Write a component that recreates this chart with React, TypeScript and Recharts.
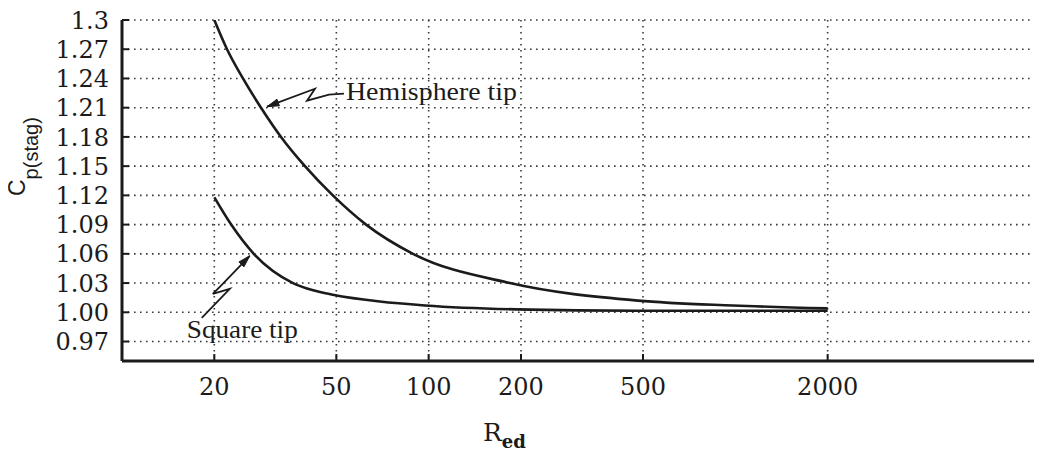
import { LineChart, Line, XAxis, YAxis, CartesianGrid, ReferenceDot, Label } from 'recharts';

// axis ticks
const reTicks = [20, 50, 100, 200, 500, 2000];
const cpTicks = [0.97, 1.0, 1.03, 1.06, 1.09, 1.12, 1.15, 1.18, 1.21, 1.24, 1.27, 1.3];
const cpTickLabels = ['0.97', '1.00', '1.03', '1.06', '1.09', '1.12', '1.15', '1.18', '1.21', '1.24', '1.27', '1.3'];

// Hemisphere tip curve
const hemisphereRe = [20, 22, 24.8, 28.4, 33, 39.5, 48.7, 62.5, 88.9, 184, 481, 982, 2000];
const hemisphereCp = [1.3, 1.27, 1.24, 1.21, 1.18, 1.15, 1.12, 1.09, 1.06, 1.03, 1.012, 1.007, 1.004];

// Square tip curve
const squareRe = [20, 22.7, 26.9, 36.1, 42, 48.7, 69.3, 97.3, 193, 481, 2000];
const squareCp = [1.118, 1.09, 1.06, 1.03, 1.0225, 1.018, 1.011, 1.007, 1.003, 1.0015, 1.0015];

// where the annotation arrows touch the curves
const hemisphereNote = { re: 29.7, cp: 1.211, text: 'Hemisphere tip' };
const squareNote = { re: 26.1, cp: 1.058, text: 'Square tip' };

const hemisphereData = hemisphereRe.map((re, i) => ({ re, cp: hemisphereCp[i] }));
const squareData = squareRe.map((re, i) => ({ re, cp: squareCp[i] }));

const ink = '#1b1b1b';
const tickFont = '"DejaVu Serif", serif';
const noteFont = '"Liberation Serif", "Times New Roman", serif';

const CpTick = ({ x, y, payload }: any) => {
  const idx = cpTicks.indexOf(payload.value);
  return (
    <g>
      <line x1={x} x2={x + 7} y1={y} y2={y} stroke={ink} strokeWidth={2} />
      <text x={x - 13} y={y} dy="0.36em" textAnchor="end" fontFamily={tickFont} fontSize={24} fill={ink}>
        {idx >= 0 ? cpTickLabels[idx] : payload.value}
      </text>
    </g>
  );
};

const ReTick = ({ x, y, payload }: any) => (
  <g>
    <line x1={x} x2={x} y1={y} y2={y - 7} stroke={ink} strokeWidth={2} />
    <text x={x} y={y + 34} textAnchor="middle" fontFamily={tickFont} fontSize={24} fill={ink}>
      {payload.value}
    </text>
  </g>
);

const TopTick = ({ x, y }: any) => (
  <line x1={x} x2={x} y1={y} y2={y + 7} stroke={ink} strokeWidth={2} />
);

const renderXLabel = (props: any) => {
  const vb = props.viewBox || { x: 114, y: 353 };
  const px = vb.x + 361;
  const py = vb.y + 80;
  return (
    <text x={px} y={py} fontFamily={tickFont} fill={ink}>
      <tspan fontSize={25}>R</tspan>
      <tspan fontSize={18} dy={7} fontWeight="bold">ed</tspan>
    </text>
  );
};

function Bolt({ cx, cy, pts, text, tx, ty, len }: any) {
  const d = pts.map(([dx, dy]: number[], i: number) => `${i ? 'L' : 'M'}${cx + dx},${cy + dy}`).join(' ');
  const [bx, by] = pts[1];
  const l = Math.hypot(bx, by);
  const ux = bx / l, uy = by / l;
  const head = `M${cx},${cy} L${cx + ux * 12 - uy * 3.5},${cy + uy * 12 + ux * 3.5} L${cx + ux * 12 + uy * 3.5},${cy + uy * 12 - ux * 3.5} Z`;
  return (
    <g>
      <path d={d} fill="none" stroke={ink} strokeWidth={1.8} strokeLinejoin="miter" />
      <path d={head} fill={ink} stroke={ink} strokeWidth={1} />
      <text x={cx + tx} y={cy + ty} fontFamily={noteFont} fontSize={26} fill={ink} textLength={len} lengthAdjust="spacingAndGlyphs">
        {text}
      </text>
    </g>
  );
}

export default function App() {
  return (
    <div style={{ position: 'relative', width: 1034, height: 446 }}>
      <LineChart width={1034} height={446} margin={{ top: 12, right: 0, bottom: 0, left: 0 }}>
        <CartesianGrid stroke="#3a3a3a" strokeWidth={1.6} strokeDasharray="1.6 4.4" />
        <XAxis
          dataKey="re" type="number" scale="log" domain={[10, 10000]} allowDataOverflow
          ticks={reTicks} interval={0} height={93} tickSize={0} tickMargin={0}
          tick={<ReTick />} tickLine={false}
          axisLine={{ stroke: ink, strokeWidth: 3 }}
        >
          <Label content={renderXLabel} />
        </XAxis>
        <XAxis
          xAxisId="top" orientation="top" dataKey="re" type="number" scale="log" domain={[10, 10000]} allowDataOverflow
          ticks={reTicks} interval={0} height={0} tickSize={0} tickMargin={0}
          tick={<TopTick />} tickLine={false}
          axisLine={{ stroke: ink, strokeWidth: 3 }}
        />
        <YAxis
          type="number" domain={[0.95, 1.3]} allowDataOverflow ticks={cpTicks} interval={0}
          width={114} tickSize={0} tickMargin={0} tick={<CpTick />} tickLine={false}
          axisLine={{ stroke: ink, strokeWidth: 3 }}
        />
        <Line data={hemisphereData} dataKey="cp" type="monotone" stroke={ink} strokeWidth={2.6} dot={false} activeDot={false} isAnimationActive={false} />
        <Line data={squareData} dataKey="cp" type="monotone" stroke={ink} strokeWidth={2.6} dot={false} activeDot={false} isAnimationActive={false} />
        <ReferenceDot
          x={hemisphereNote.re} y={hemisphereNote.cp}
          shape={(p: any) => (
            <Bolt cx={p.cx} cy={p.cy} text={hemisphereNote.text} tx={79} ty={-7} len={171}
              pts={[[0, 0], [48, -18], [40, -6], [62, -12], [77, -13]]} />
          )}
        />
        <ReferenceDot
          x={squareNote.re} y={squareNote.cp}
          shape={(p: any) => (
            <Bolt cx={p.cx} cy={p.cy} text={squareNote.text} tx={-63} ty={82} len={111}
              pts={[[0, 0], [-28, 29], [-37, 38], [-20, 33], [-48, 62]]} />
          )}
        />
      </LineChart>
      {/* y axis title, turned to read bottom-to-top */}
      <div
        style={{
          position: 'absolute', left: -2, top: 188, transformOrigin: '0 0', transform: 'rotate(-90deg)',
          whiteSpace: 'nowrap', fontFamily: '"Liberation Sans", Arial, sans-serif', fontSize: 23,
          lineHeight: '23px', color: ink,
        }}
      >
        C<span style={{ fontSize: 20, position: 'relative', top: 13 }}>p(stag)</span>
      </div>
    </div>
  );
}
